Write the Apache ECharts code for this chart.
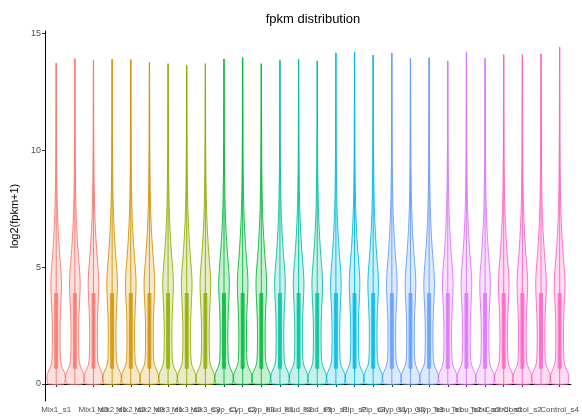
<!DOCTYPE html>
<html>
<head>
<meta charset="utf-8">
<script src="https://cdn.jsdelivr.net/npm/echarts@6/dist/echarts.min.js"></script>
<style>
  html, body { margin: 0; padding: 0; background: #fff; }
  #chart { width: 582px; height: 420px; }
</style>
</head>
<body>
<div id="chart"></div>
<script>
// Sample names along the x axis
const samples = [
  'Mix1_s1', 'Mix1_s2', 'Mix1_s3', 'Mix2_s1', 'Mix2_s2', 'Mix2_s3',
  'Mix3_s1', 'Mix3_s2', 'Mix3_s3', 'Cyp_s1', 'Cyp_s2', 'Cyp_s3',
  'Flud_s1', 'Flud_s2', 'Flud_s3', 'Pip_s1', 'Pip_s2', 'Pip_s3',
  'Glyp_s1', 'Glyp_s2', 'Glyp_s3', 'Tebu_s1', 'Tebu_s2', 'Tebu_s3',
  'Control_s1', 'Control_s2', 'Control_s3', 'Control_s4'
];

// Treatment groups and the group each sample belongs to (sets the colour)
const groups = ['Mix1', 'Mix2', 'Mix3', 'Cyp', 'Flud', 'Pip', 'Glyp', 'Tebu', 'Control'];
const sampleGroup = [
  0, 0, 0, 1, 1, 1, 2, 2, 2, 3, 3, 3, 4, 4, 4,
  5, 5, 5, 6, 6, 6, 7, 7, 7, 8, 8, 8, 8
];

// Highest log2(fpkm+1) per sample
const sampleMax = [
  13.73, 13.92, 13.85, 13.89, 13.88, 13.77, 13.70, 13.63, 13.70, 13.90,
  13.96, 13.70, 13.85, 13.90, 13.82, 14.16, 14.20, 14.07, 14.16, 13.94,
  13.96, 13.82, 14.19, 13.93, 14.09, 14.09, 14.12, 14.41
];

// Box statistics per sample
const sampleQ1 = [
  0.67, 0.67, 0.67, 0.67, 0.67, 0.67, 0.67, 0.67, 0.67, 0.67,
  0.67, 0.67, 0.67, 0.67, 0.67, 0.67, 0.67, 0.67, 0.67, 0.67,
  0.67, 0.67, 0.67, 0.67, 0.67, 0.67, 0.67, 0.67
];
const sampleMedian = [
  2.35, 2.35, 2.35, 2.35, 2.35, 2.35, 2.35, 2.35, 2.35, 2.35,
  2.35, 2.35, 2.35, 2.35, 2.35, 2.35, 2.35, 2.35, 2.35, 2.35,
  2.35, 2.35, 2.35, 2.35, 2.35, 2.35, 2.35, 2.35
];
const sampleQ3 = [
  3.87, 3.87, 3.87, 3.87, 3.87, 3.87, 3.87, 3.87, 3.87, 3.87,
  3.87, 3.87, 3.87, 3.87, 3.87, 3.87, 3.87, 3.87, 3.87, 3.87,
  3.87, 3.87, 3.87, 3.87, 3.87, 3.87, 3.87, 3.87
];

// Kernel density outline shared by the samples:
// [log2(fpkm+1), half width in category units]
const densityProfile = [
  [0.00, 0.44], [0.12, 0.48], [0.30, 0.49], [0.45, 0.46], [0.60, 0.38],
  [0.75, 0.30], [0.90, 0.25], [1.10, 0.225], [1.50, 0.21], [2.00, 0.205],
  [2.60, 0.21], [3.20, 0.235], [3.80, 0.27], [4.30, 0.285], [4.80, 0.26],
  [5.30, 0.21], [5.80, 0.165], [6.40, 0.12], [7.00, 0.085], [7.60, 0.06],
  [8.40, 0.04], [9.30, 0.027], [10.5, 0.018], [12.0, 0.012], [13.2, 0.008]
];

const yTicks = [0, 5, 10, 15];

// ggplot-style evenly spaced HCL hues (l = 65, c = 100)
function hueColor(h) {
  const L = 65, C = 100;
  const rad = h * Math.PI / 180;
  const u = C * Math.cos(rad), v = C * Math.sin(rad);
  const Xn = 95.047, Yn = 100, Zn = 108.883;
  const Y = Yn * Math.pow((L + 16) / 116, 3);
  const den = Xn + 15 * Yn + 3 * Zn;
  const un = 4 * Xn / den, vn = 9 * Yn / den;
  const up = u / (13 * L) + un, vp = v / (13 * L) + vn;
  const X = 9 * Y * up / (4 * vp);
  const Z = -X / 3 - 5 * Y + 3 * Y / vp;
  const x = X / 100, y = Y / 100, z = Z / 100;
  const lin = [
    3.2404542 * x - 1.5371385 * y - 0.4985314 * z,
    -0.9692660 * x + 1.8760108 * y + 0.0415560 * z,
    0.0556434 * x - 0.2040259 * y + 1.0572252 * z
  ];
  return lin.map(c => {
    const g = c <= 0.0031308 ? 12.92 * c : 1.055 * Math.pow(c, 1 / 2.4) - 0.055;
    return Math.round(Math.min(1, Math.max(0, g)) * 255);
  });
}
const groupPalette = groups.map((g, k) => hueColor(15 + 360 * k / groups.length));
const rgba = (c, a) => `rgba(${c[0]},${c[1]},${c[2]},${a})`;

const seriesData = samples.map((s, i) => [i + 1, sampleQ1[i], sampleMedian[i], sampleQ3[i], sampleMax[i]]);

function renderViolin(params, api) {
  const i = params.dataIndex;
  const xc = api.value(0);
  const q1 = api.value(1), med = api.value(2), q3 = api.value(3), top = api.value(4);
  const col = groupPalette[sampleGroup[i]];

  // violin outline
  const right = [], left = [];
  densityProfile.forEach(([v, w]) => {
    if (v < top) {
      right.push(api.coord([xc + w, v]));
      left.push(api.coord([xc - w, v]));
    }
  });
  right.push(api.coord([xc + 0.004, top]));
  left.push(api.coord([xc - 0.004, top]));
  const pts = right.concat(left.reverse());

  const base = api.coord([xc, 0]);
  const peak = api.coord([xc, top]);
  const pL = api.coord([xc - 0.08, q3]);
  const pR = api.coord([xc + 0.08, q1]);
  const pm = api.coord([xc, med]);

  return {
    type: 'group',
    children: [
      {
        type: 'polygon',
        shape: { points: pts, smooth: 0.25 },
        style: { fill: rgba(col, 0.22), stroke: rgba(col, 1), lineWidth: 0.9 }
      },
      {
        type: 'line',
        shape: { x1: base[0], y1: base[1], x2: peak[0], y2: peak[1] },
        style: { stroke: rgba(col, 0.9), lineWidth: 1 }
      },
      {
        type: 'rect',
        shape: { x: pL[0], y: pL[1], width: pR[0] - pL[0], height: pR[1] - pL[1] },
        style: { fill: rgba(col, 0.75), stroke: rgba(col, 0.95), lineWidth: 0.8 }
      },
      {
        type: 'circle',
        shape: { cx: pm[0], cy: pm[1], r: 1.1 },
        style: { fill: rgba(col, 0.6) }
      }
    ]
  };
}

const chart = echarts.init(document.getElementById('chart'), null, { renderer: 'canvas' });
chart.setOption({
  backgroundColor: '#ffffff',
  animation: false,
  title: {
    text: 'fpkm distribution',
    left: 308,
    top: 8,
    textAlign: 'center',
    textStyle: { fontFamily: 'Liberation Sans', fontSize: 13, fontWeight: 'normal', color: '#000' }
  },
  grid: { left: 45, right: 11, top: 31, bottom: 19, containLabel: false },
  xAxis: {
    type: 'value',
    min: 0.4,
    max: samples.length + 0.6,
    splitLine: { show: false },
    axisLine: { show: true, lineStyle: { color: '#000', width: 1 } },
    axisTick: {
      show: true, length: 3, customValues: samples.map((s, i) => i + 1),
      lineStyle: { color: '#333' }
    },
    axisLabel: {
      customValues: samples.map((s, i) => i + 1),
      formatter: v => samples[Math.round(v) - 1] || '',
      fontFamily: 'Liberation Sans', fontSize: 8, color: '#4d4d4d', margin: 5,
      hideOverlap: false, showMinLabel: true, showMaxLabel: true
    }
  },
  yAxis: {
    type: 'value',
    min: -0.73,
    max: 15.1,
    name: 'log2(fpkm+1)',
    nameLocation: 'middle',
    nameGap: 17,
    nameTextStyle: { fontFamily: 'Liberation Sans', fontSize: 11, color: '#000' },
    splitLine: { show: false },
    axisLine: { show: true, lineStyle: { color: '#000', width: 1 } },
    axisTick: { show: true, length: 3, customValues: yTicks, lineStyle: { color: '#333' } },
    axisLabel: {
      customValues: yTicks,
      fontFamily: 'Liberation Sans', fontSize: 9, color: '#4d4d4d', margin: 4
    }
  },
  series: [{
    type: 'custom',
    renderItem: renderViolin,
    data: seriesData,
    encode: { x: 0, y: [1, 2, 3, 4] },
    clip: false
  }]
});
</script>
</body>
</html>
